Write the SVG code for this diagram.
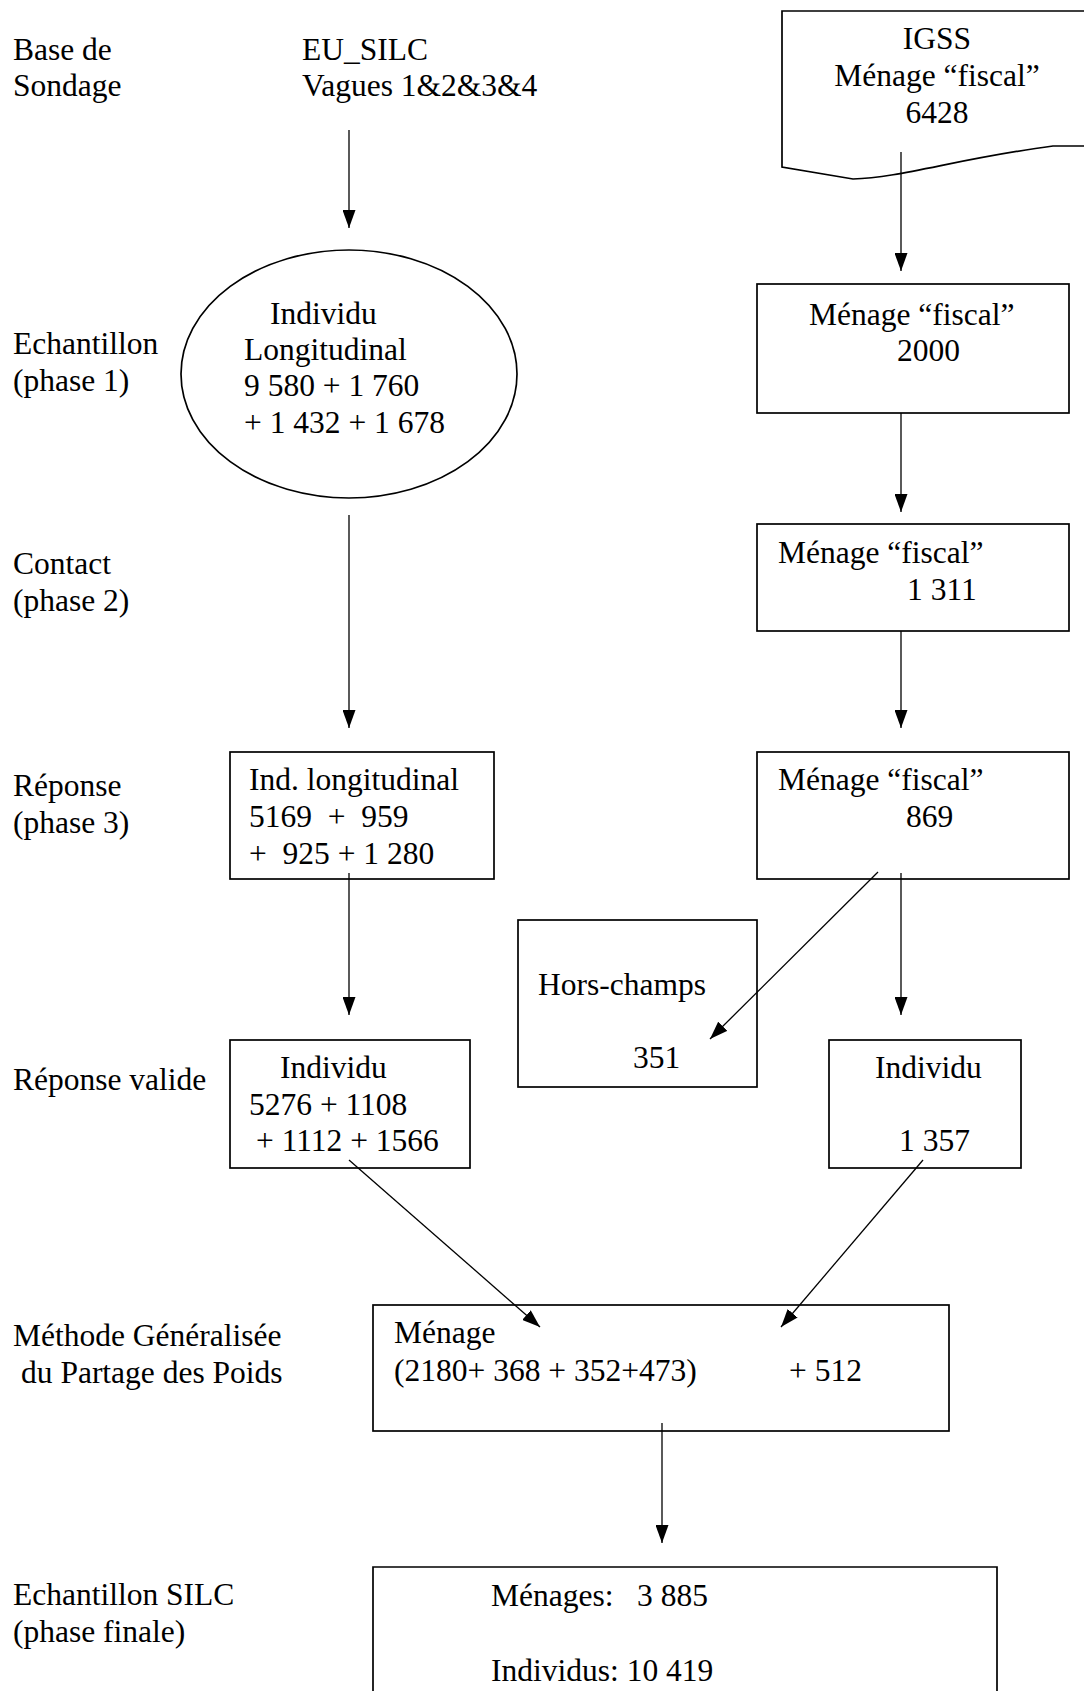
<svg xmlns="http://www.w3.org/2000/svg" width="1084" height="1691" viewBox="0 0 1084 1691">
<style>
text{font-family:"Liberation Serif","Times New Roman",serif;font-size:31.5px;fill:#000;white-space:pre}
.box{fill:none;stroke:#000;stroke-width:1.7}
.ln{fill:none;stroke:#000;stroke-width:1.3}
.mid{text-anchor:middle}
</style>
<defs>
<marker id="ah" markerWidth="18" markerHeight="13" refX="18" refY="6.5" orient="auto" markerUnits="userSpaceOnUse">
<path d="M0,0 L18,6.5 L0,13 Z" fill="#000"/>
</marker>
</defs>
<rect width="1084" height="1691" fill="#fff"/>

<g id="labels">
<text x="13" y="60">Base de</text>
<text x="13" y="96">Sondage</text>
<text x="13" y="354">Echantillon</text>
<text x="13" y="391">(phase 1)</text>
<text x="13" y="574">Contact</text>
<text x="13" y="611">(phase 2)</text>
<text x="13" y="796">Réponse</text>
<text x="13" y="833">(phase 3)</text>
<text x="13" y="1090">Réponse valide</text>
<text x="13" y="1346">Méthode Généralisée</text>
<text x="21" y="1383">du Partage des Poids</text>
<text x="13" y="1605">Echantillon SILC</text>
<text x="13" y="1642">(phase finale)</text>
</g>

<g id="eu-silc">
<text x="302" y="60">EU_SILC</text>
<text x="302" y="96">Vagues 1&amp;2&amp;3&amp;4</text>
</g>

<g id="igss">
<path class="box" d="M1100,11 H782 V167 L853,179 C900,178 960,158 1053,146 H1100"/>
<text class="mid" x="937" y="49">IGSS</text>
<text class="mid" x="937" y="86">Ménage “fiscal”</text>
<text class="mid" x="937" y="123">6428</text>
</g>

<g id="individu-longitudinal">
<ellipse class="box" cx="349" cy="374" rx="168" ry="124"/>
<text x="270" y="324">Individu</text>
<text x="244" y="360">Longitudinal</text>
<text x="244" y="396">9 580 + 1 760</text>
<text x="244" y="433">+ 1 432 + 1 678</text>
</g>

<g id="menage-fiscal-2000">
<rect class="box" x="757" y="284" width="312" height="129"/>
<text x="809" y="325">Ménage “fiscal”</text>
<text x="897" y="361">2000</text>
</g>

<g id="menage-fiscal-1311">
<rect class="box" x="757" y="524" width="312" height="107"/>
<text x="778" y="563">Ménage “fiscal”</text>
<text x="907" y="600">1 311</text>
</g>

<g id="ind-longitudinal">
<rect class="box" x="230" y="752" width="264" height="127"/>
<text x="249" y="790">Ind. longitudinal</text>
<text x="249" y="827">5169  +  959</text>
<text x="249" y="864">+  925 + 1 280</text>
</g>

<g id="menage-fiscal-869">
<rect class="box" x="757" y="752" width="312" height="127"/>
<text x="778" y="790">Ménage “fiscal”</text>
<text x="906" y="827">869</text>
</g>

<g id="hors-champs">
<rect class="box" x="518" y="920" width="239" height="167"/>
<text x="538" y="995">Hors-champs</text>
<text x="633" y="1068">351</text>
</g>

<g id="individu-left">
<rect class="box" x="230" y="1040" width="240" height="128"/>
<text x="280" y="1078">Individu</text>
<text x="249" y="1115">5276 + 1108</text>
<text x="256" y="1151">+ 1112 + 1566</text>
</g>

<g id="individu-right">
<rect class="box" x="829" y="1040" width="192" height="128"/>
<text x="875" y="1078">Individu</text>
<text x="899" y="1151">1 357</text>
</g>

<g id="menage-mgpp">
<rect class="box" x="373" y="1305" width="576" height="126"/>
<text x="394" y="1343">Ménage</text>
<text x="394" y="1381">(2180+ 368 + 352+473)</text>
<text x="789" y="1381">+ 512</text>
</g>

<g id="echantillon-silc">
<path class="box" d="M373,1700 V1567 H997 V1700"/>
<text x="491" y="1606">Ménages:   3 885</text>
<text x="491" y="1681">Individus: 10 419</text>
</g>

<g id="connectors">
<line class="ln" x1="349" y1="130" x2="349" y2="228" marker-end="url(#ah)"/>
<line class="ln" x1="901" y1="152" x2="901" y2="271" marker-end="url(#ah)"/>
<line class="ln" x1="901" y1="413" x2="901" y2="512" marker-end="url(#ah)"/>
<line class="ln" x1="349" y1="515" x2="349" y2="728" marker-end="url(#ah)"/>
<line class="ln" x1="901" y1="631" x2="901" y2="728" marker-end="url(#ah)"/>
<line class="ln" x1="349" y1="873" x2="349" y2="1015" marker-end="url(#ah)"/>
<line class="ln" x1="901" y1="873" x2="901" y2="1015" marker-end="url(#ah)"/>
<line class="ln" x1="878" y1="872" x2="710" y2="1039" marker-end="url(#ah)"/>
<line class="ln" x1="349" y1="1160" x2="540" y2="1327" marker-end="url(#ah)"/>
<line class="ln" x1="923" y1="1160" x2="781" y2="1327" marker-end="url(#ah)"/>
<line class="ln" x1="662" y1="1423" x2="662" y2="1543" marker-end="url(#ah)"/>
</g>
</svg>
